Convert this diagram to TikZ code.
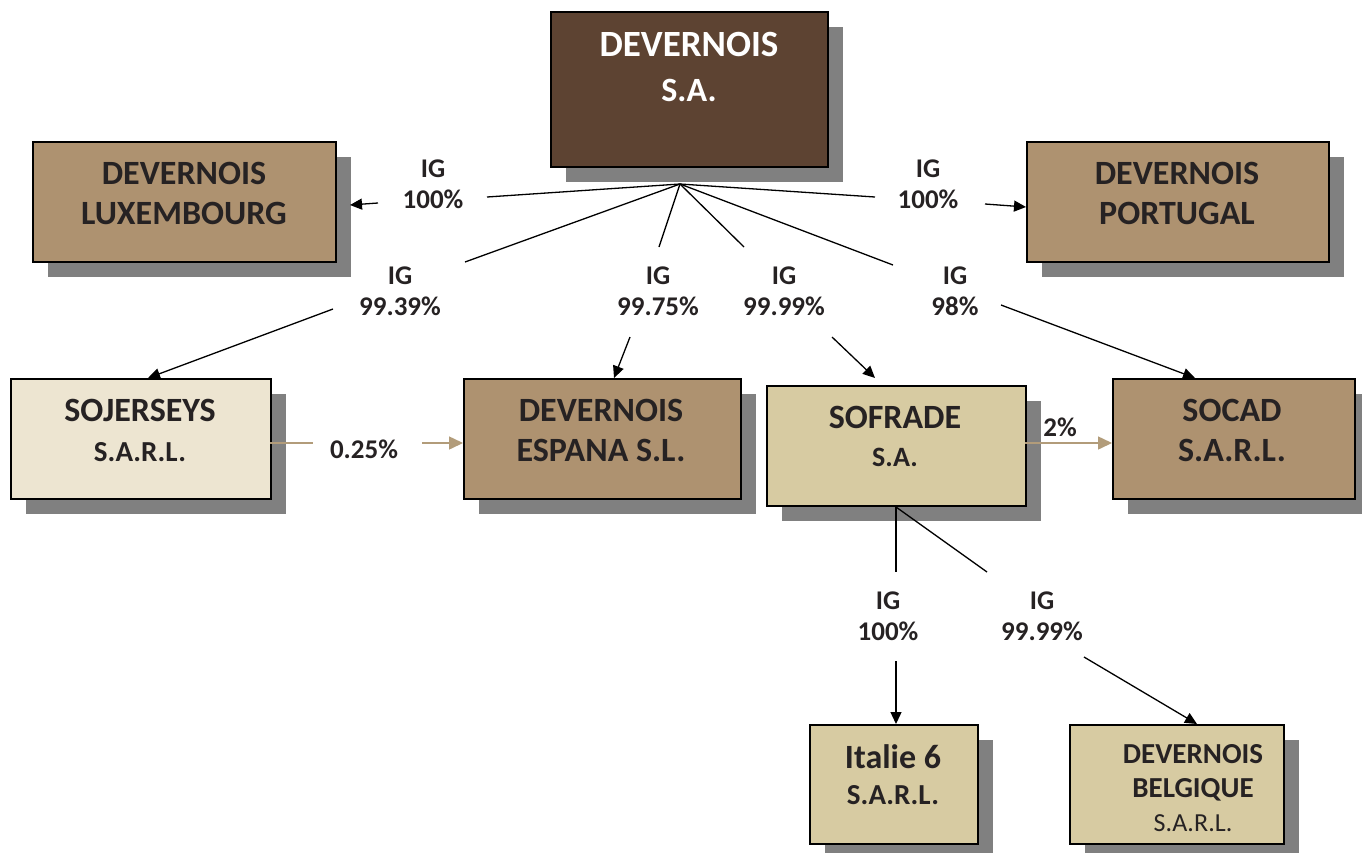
\documentclass[tikz,border=0pt]{standalone}
\usepackage{fontspec}
\setmainfont{Carlito}
\usetikzlibrary{arrows.meta,shadows}
\definecolor{topc}{HTML}{5D4332}
\definecolor{tanc}{HTML}{AE9270}
\definecolor{lightc}{HTML}{EDE5D1}
\definecolor{midc}{HTML}{D7CBA2}
\definecolor{shadowc}{HTML}{808080}
\definecolor{textc}{HTML}{262223}
\definecolor{tanline}{HTML}{B29C7A}
\newcommand{\fs}[2]{\fontsize{#1}{#2}\selectfont}
\begin{document}
\begin{tikzpicture}[x=1pt,y=-1pt,
  box/.style={draw=black, line width=1.5pt, anchor=north west, inner sep=0pt,
    general shadow={fill=shadowc, shadow xshift=15pt, shadow yshift=-15pt}},
  txt/.style={font=\bfseries, text=textc, align=center, inner sep=0pt},
  lab/.style={font=\bfseries\fs{27}{31}, text=textc, align=center, inner sep=0pt},
  conn/.style={line width=1.3pt, black},
  arr/.style={line width=1.3pt, black, -{Triangle[length=12pt,width=11pt]}},
  tarr/.style={line width=1.5pt, tanline, -{Triangle[length=14pt,width=13pt]}}]
\useasboundingbox (0,0) rectangle (1362,852);

% boxes
\node[box, fill=topc, minimum width=277pt, minimum height=155pt] (sa) at (550,11) {};
\node[box, fill=tanc, minimum width=303pt, minimum height=120pt] (lux) at (32,141) {};
\node[box, fill=tanc, minimum width=302pt, minimum height=120pt] (port) at (1026,141) {};
\node[box, fill=lightc, minimum width=260pt, minimum height=120pt] (soj) at (10,378) {};
\node[box, fill=tanc, minimum width=277pt, minimum height=120pt] (esp) at (463,378) {};
\node[box, fill=midc, minimum width=259pt, minimum height=120pt] (sof) at (766,385) {};
\node[box, fill=tanc, minimum width=242pt, minimum height=120pt] (soc) at (1112,378) {};
\node[box, fill=midc, minimum width=168pt, minimum height=119pt] (ita) at (809,724) {};
\node[box, fill=midc, minimum width=214pt, minimum height=119pt] (bel) at (1069,724) {};

% box texts
\node[txt, text=white, font=\bfseries\fs{34}{45}] (satxt) at (689,67) {{\fs{37}{45}DEVERNOIS}\\S.A.};
\node[txt, font=\bfseries\fs{34}{40}] (luxtxt) at (184,193) {DEVERNOIS\\LUXEMBOURG};
\node[txt, font=\bfseries\fs{34}{40}] (porttxt) at (1177,193) {DEVERNOIS\\PORTUGAL};
\node[txt, font=\bfseries\fs{29}{40}] (sojtxt) at (140,430) {{\fs{34}{40}SOJERSEYS}\\S.A.R.L.};
\node[txt, font=\bfseries\fs{34}{40}] (esptxt) at (601,430) {DEVERNOIS\\ESPANA S.L.};
\node[txt, font=\bfseries\fs{28}{38}] (softxt) at (895,436) {{\fs{34}{38}SOFRADE}\\S.A.};
\node[txt, font=\bfseries\fs{34}{40}] (soctxt) at (1232,430) {SOCAD\\S.A.R.L.};
\node[txt, font=\bfseries\fs{29}{36}] (itatxt) at (893,775) {{\fs{34}{36}Italie 6}\\S.A.R.L.};
\node[txt, font=\bfseries\fs{29}{34}] (beltxt) at (1193,788) {DEVERNOIS\\BELGIQUE\\{\mdseries\fs{26}{34}S.A.R.L.}};

% labels
\node[lab] (l1) at (433,184) {IG\\100\%};
\node[lab] (l2) at (928,184) {IG\\100\%};
\node[lab] (l3) at (400,291) {IG\\99.39\%};
\node[lab] (l4) at (658,291) {IG\\99.75\%};
\node[lab] (l5) at (784,291) {IG\\99.99\%};
\node[lab] (l6) at (955,291) {IG\\98\%};
\node[lab] (l7) at (888,616) {IG\\100\%};
\node[lab] (l8) at (1042,616) {IG\\99.99\%};
\node[lab] (l9) at (364,449) {0.25\%};
\node[lab] (l10) at (1060,427) {2\%};

% connector points
\coordinate (hub) at (680,184);
\coordinate (a1) at (487,197); \coordinate (b1) at (378,203); \coordinate (e1) at (350,205);
\coordinate (a2) at (875,197); \coordinate (b2) at (985,204); \coordinate (e2) at (1026,207);
\coordinate (a3) at (465,262); \coordinate (b3) at (333,309); \coordinate (e3) at (148,378);
\coordinate (a4) at (659,247); \coordinate (b4) at (630,337); \coordinate (e4) at (614,378);
\coordinate (a5) at (744,247); \coordinate (b5) at (832,337); \coordinate (e5) at (875,378);
\coordinate (a6) at (893,265); \coordinate (b6) at (1001,305); \coordinate (e6) at (1195,378);
\coordinate (hub2) at (896,507);
\coordinate (a7) at (896,572); \coordinate (b7) at (896,661); \coordinate (e7) at (896,724);
\coordinate (a8) at (987,572); \coordinate (b8) at (1084,657); \coordinate (e8) at (1197,724);
\coordinate (s1) at (270,443); \coordinate (s2) at (313,443); \coordinate (s3) at (422,443); \coordinate (s4) at (463,443);
\coordinate (f1) at (1025,443); \coordinate (f2) at (1112,443);

\draw[conn] (hub) -- (a1); \draw[arr] (b1) -- (e1);
\draw[conn] (hub) -- (a2); \draw[arr] (b2) -- (e2);
\draw[conn] (hub) -- (a3); \draw[arr] (b3) -- (e3);
\draw[conn] (hub) -- (a4); \draw[arr] (b4) -- (e4);
\draw[conn] (hub) -- (a5); \draw[arr] (b5) -- (e5);
\draw[conn] (hub) -- (a6); \draw[arr] (b6) -- (e6);
\draw[conn] (hub2) -- (a7); \draw[arr] (b7) -- (e7);
\draw[conn] (hub2) -- (a8); \draw[arr] (b8) -- (e8);
\draw[line width=1.5pt, tanline] (s1) -- (s2); \draw[tarr] (s3) -- (s4);
\draw[tarr] (f1) -- (f2);
\end{tikzpicture}
\end{document}
